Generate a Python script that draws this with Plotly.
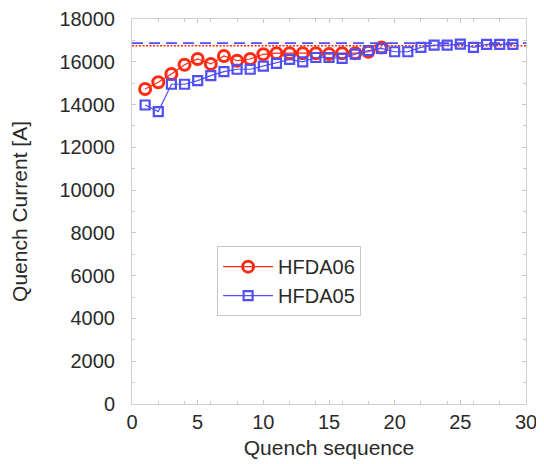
import plotly.graph_objects as go

seq_06 = list(range(1, 20))
hfda06 = [14730, 15040, 15430, 15860, 16130, 15900, 16270, 16050, 16130, 16350,
          16400, 16400, 16400, 16400, 16360, 16400, 16400, 16470, 16670]
seq_05 = list(range(1, 30))
hfda05 = [13980, 13670, 14950, 14950, 15120, 15350, 15540, 15650, 15650, 15800,
          15930, 16110, 16000, 16200, 16200, 16160, 16360, 16520, 16630, 16470,
          16470, 16670, 16780, 16780, 16830, 16670, 16810, 16810, 16810]
limit_05 = 16870
limit_06 = 16750

RED = "#ff2a12"
BLUE = "#4f4ff5"

fig = go.Figure()
fig.add_trace(go.Scatter(x=[0, 30], y=[limit_05, limit_05], mode="lines",
                         showlegend=False, line=dict(color=BLUE, width=1.6, dash="11px,6px")))
fig.add_trace(go.Scatter(x=[0, 30], y=[limit_06, limit_06], mode="lines",
                         showlegend=False, line=dict(color=RED, width=1.6, dash="2px,1.5px")))
fig.add_trace(go.Scatter(x=seq_06, y=hfda06, mode="lines+markers", name="HFDA06",
                         line=dict(color=RED, width=1.2),
                         marker=dict(symbol="circle-open", size=11, color=RED,
                                     line=dict(width=3, color=RED))))
fig.add_trace(go.Scatter(x=seq_05, y=hfda05, mode="lines+markers", name="HFDA05",
                         line=dict(color=BLUE, width=1.2),
                         marker=dict(symbol="square-open", size=9, color=BLUE,
                                     line=dict(width=2.2, color=BLUE))))

axis_common = dict(showline=True, linecolor="#d0d0d0", linewidth=1, mirror="ticks",
                   showgrid=False, zeroline=False, ticks="inside", tickcolor="#c8c8c8",
                   ticklen=4, tickfont=dict(size=20, color="#2a2a2a"), automargin=False,
                   title_font=dict(size=21, color="#2a2a2a"), tickformat="d")

fig.update_xaxes(range=[0, 30], dtick=5, title_text="Quench sequence",
                 minor=dict(dtick=2, ticks="inside", ticklen=3, tickcolor="#c8c8c8"),
                 ticklabelstandoff=0, title_standoff=8, **axis_common)
fig.update_yaxes(range=[0, 18000], dtick=2000, title_text="Quench Current [A]",
                 minor=dict(dtick=1000, ticks="inside", ticklen=3, tickcolor="#c8c8c8"),
                 ticklabelstandoff=12, title_standoff=30, **axis_common)

fig.update_layout(
    width=536, height=456,
    margin=dict(l=124, r=18, t=11, b=60),
    paper_bgcolor="white", plot_bgcolor="white",
    font=dict(family="Liberation Sans, Arial, sans-serif", color="#2a2a2a"),
    legend=dict(x=0.216, y=0.41, xanchor="left", yanchor="top",
                bgcolor="white", bordercolor="#c8c8c8", borderwidth=1,
                font=dict(size=20), itemwidth=50, tracegroupgap=0),
)

fig.write_html("out.html")
